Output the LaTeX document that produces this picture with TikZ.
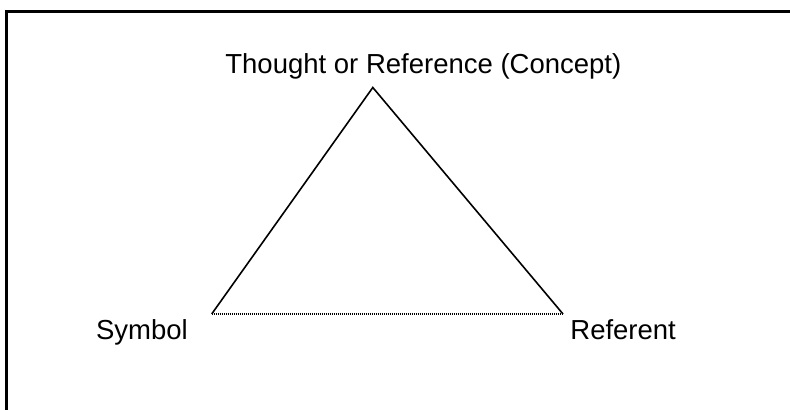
\documentclass[tikz,border=0pt]{standalone}
\usepackage{fontspec}
\setmainfont{Liberation Sans}
\usetikzlibrary{positioning}

\begin{document}
\begin{tikzpicture}[
    x=0.5pt, y=-0.5pt,
    term/.style={font=\fontsize{13.75}{16}\selectfont, inner sep=0pt, anchor=base west},
    side/.style={line width=0.8pt, line join=miter},
    base/.style={line width=0.6pt, dash pattern=on 0.5pt off 0.5pt}
  ]
    \useasboundingbox (0,0) rectangle (790,410);
    \clip (0,0) rectangle (790,410);
    % frame, open to the right and bottom
    \draw[line width=1.3pt] (6.5,440) |- (820,11.5);
    % corners of the triangle
    \coordinate (apex) at (372.8,87.5);
    \coordinate (sym) at (211.7,314);
    \coordinate (ref) at (563,314);
    \node[term] (concept) at (225,73.3) {Thought or Reference (Concept)};
    \node[term] (symbol) at (95.7,339) {Symbol};
    \node[term] (referent) at (570,339) {Referent};
    \draw[side] (sym) -- (apex) -- (ref);
    \draw[base] (sym) -- (ref);
  \end{tikzpicture}
\end{document}
